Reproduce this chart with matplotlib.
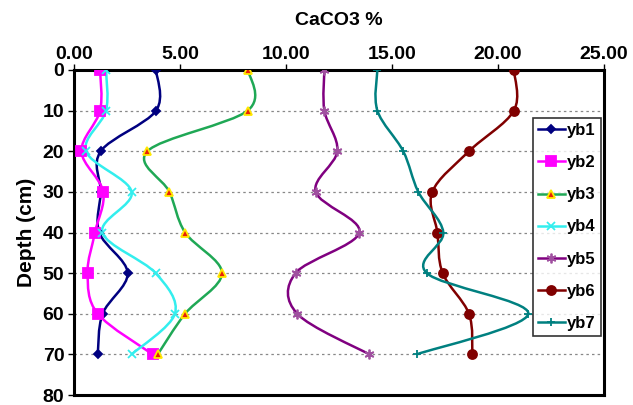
import matplotlib
matplotlib.use('Agg')
import matplotlib.pyplot as plt
from matplotlib.path import Path
from matplotlib.patches import PathPatch
from matplotlib.lines import Line2D
import numpy as np

plt.rcParams['font.family'] = ['Liberation Sans', 'DejaVu Sans']
plt.rcParams['font.weight'] = 'bold'

depth = [0, 10, 20, 30, 40, 50, 60, 70]
yb1 = [3.87, 3.87, 1.26, 1.26, 1.19, 2.53, 1.35, 1.12]
yb2 = [1.23, 1.23, 0.35, 1.38, 0.99, 0.64, 1.12, 3.71]
yb3 = [8.22, 8.19, 3.46, 4.50, 5.24, 6.98, 5.24, 3.95]
yb4 = [1.51, 1.51, 0.57, 2.72, 1.34, 3.85, 4.76, 2.72]
yb5 = [11.81, 11.81, 12.42, 11.40, 13.46, 10.45, 10.53, 13.93]
yb6 = [20.75, 20.75, 18.63, 16.90, 17.14, 17.39, 18.63, 18.79]
yb7 = [14.31, 14.31, 15.53, 16.24, 17.42, 16.64, 21.43, 16.16]

names = ['yb1', 'yb2', 'yb3', 'yb4', 'yb5', 'yb6', 'yb7']
series = [yb1, yb2, yb3, yb4, yb5, yb6, yb7]
xtick_vals = [0, 5, 10, 15, 20, 25]
xtick_labels = ['0.00', '5.00', '10.00', '15.00', '20.00', '25.00']

STYLE = {
    'yb1': dict(color='#000080', marker='D', ms=4.5, mfc='#000080', mec='#000080'),
    'yb2': dict(color='#FF00FF', marker='s', ms=6.5, mfc='#FF00FF', mec='#FF00FF'),
    'yb3': dict(color='#1FA855', marker='^', ms=6, mfc='#E8200A', mec='#FFE800'),
    'yb4': dict(color='#33EEEE', marker='x', ms=6, mfc='#33EEEE', mec='#33EEEE'),
    'yb5': dict(color='#800080', marker=(6, 2, 0), ms=7, mfc='#A050A0', mec='#A050A0'),
    'yb6': dict(color='#800000', marker='o', ms=6.5, mfc='#800000', mec='#800000'),
    'yb7': dict(color='#008080', marker='+', ms=6, mfc='#008080', mec='#008080'),
}


def smooth_path(xs, ys, tension=1 / 6):
    # Excel-like smoothed line: cubic Bezier segments through the points
    pts = np.column_stack([xs, ys]).astype(float)
    n = len(pts)
    verts = [pts[0]]
    codes = [Path.MOVETO]
    for i in range(n - 1):
        p0 = pts[i - 1] if i > 0 else pts[i]
        p1, p2 = pts[i], pts[i + 1]
        p3 = pts[i + 2] if i + 2 < n else pts[i + 1]
        c1 = p1 + (p2 - p0) * tension
        c2 = p2 - (p3 - p1) * tension
        verts += [c1, c2, p2]
        codes += [Path.CURVE4] * 3
    return Path(verts, codes)


fig = plt.figure(figsize=(6.33, 4.05), dpi=100)
ax = fig.add_axes([74 / 633, 10 / 405, 530 / 633, 325 / 405])

handles = []
for name, vals in zip(names, series):
    st = STYLE[name]
    ax.add_patch(PathPatch(smooth_path(vals, depth), facecolor='none',
                           edgecolor=st['color'], lw=1.8, zorder=3))
    ax.plot(vals, depth, linestyle='none', marker=st['marker'], ms=st['ms'],
            mfc=st['mfc'], mec=st['mec'], mew=1.3, zorder=4)
    handles.append(Line2D([], [], color=st['color'], lw=1.8, marker=st['marker'],
                          ms=st['ms'], mfc=st['mfc'], mec=st['mec'], mew=1.3,
                          label=name))

ax.set_xlim(0, 25)
ax.set_ylim(80, 0)
ax.xaxis.tick_top()
ax.xaxis.set_label_position('top')
ax.set_xticks(xtick_vals)
ax.set_xticklabels(xtick_labels, fontsize=14, fontweight='bold')
ax.set_yticks(range(0, 81, 10))
ax.set_yticklabels([str(v) for v in range(0, 81, 10)], fontsize=14,
                   fontweight='bold')
ax.tick_params(axis='both', length=4, width=1, direction='out', pad=3)
ax.tick_params(axis='x', pad=1)
for y in range(10, 80, 10):
    ax.axhline(y, color='#888888', ls=(0, (2, 2.5)), lw=0.9, zorder=1)
for s in ax.spines.values():
    s.set_linewidth(2.2)

ax.set_xlabel('CaCO3 %', fontsize=14, fontweight='bold', labelpad=15)
ax.set_ylabel('Depth (cm)', fontsize=15, fontweight='bold', labelpad=5)

leg = ax.legend(handles=handles, loc='upper left',
                bbox_to_anchor=(459 / 530, 1 - 48 / 325),
                prop=dict(size=12, weight='bold'),
                frameon=True, fancybox=False, edgecolor='black',
                handlelength=1.6, handletextpad=0.15, labelspacing=1.03,
                borderpad=0.3, borderaxespad=0)
leg.get_frame().set_linewidth(1.2)

fig.savefig('out.png', dpi=100)
